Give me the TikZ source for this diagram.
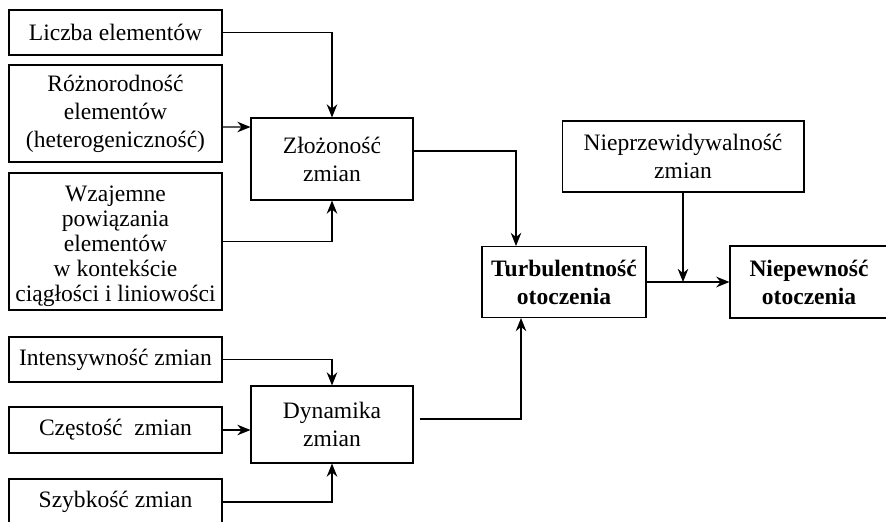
\documentclass[tikz,border=0pt]{standalone}
\usepackage{fontspec}
\setmainfont{Liberation Serif}
\usetikzlibrary{arrows.meta}

\begin{document}
\begin{tikzpicture}[x=0.02cm, y=-0.02cm,
    box/.style={draw, line width=0.6pt, align=center, inner sep=0pt,
                font=\fontsize{13.4}{15.9}\selectfont},
    leftbox/.style={box, minimum width=4.26cm},
    midbox/.style={box, minimum width=3.24cm},
    arr/.style={line width=0.6pt, -{Stealth[length=7.5pt, width=6pt]}}]
    \useasboundingbox (0,0) rectangle (886,521);

    % Left column
    \node[leftbox, minimum height=0.9cm] (liczba) at (115.5,32.5) {Liczba elementów};
    \node[leftbox, minimum height=1.94cm] (rozn) at (115.5,113.5) {Różnorodność\\elementów\\(heterogeniczność)};
    \node[leftbox, minimum height=2.74cm, font=\fontsize{13.4}{14.3}\selectfont] (wzaj) at (115.5,241.5) {\rule{0pt}{14pt}Wzajemne\\powiązania\\elementów\\w kontekście\\ciągłości i liniowości};
    \node[leftbox, minimum height=0.9cm] (inten) at (115.5,359.5) {Intensywność zmian};
    \node[leftbox, minimum height=0.92cm] (czest) at (115.5,430) {Częstość~~zmian};
    \node[leftbox, minimum height=0.92cm] (szybk) at (115.5,502) {Szybkość zmian};

    % Middle column
    \node[midbox, minimum height=1.64cm] (zloz) at (332,159) {Złożoność\\zmian};
    \node[midbox, minimum height=1.54cm] (dyn) at (332,424.5) {Dynamika\\zmian};

    % Right part
    \node[box, minimum width=3.28cm, minimum height=1.42cm, font=\fontsize{13.4}{15.9}\selectfont\bfseries] (turb) at (564,282) {Turbulentność\\otoczenia};
    \node[box, minimum width=4.84cm, minimum height=1.42cm] (nieprz) at (683,156.5) {Nieprzewidywalność\\zmian};
    \node[box, minimum width=3.16cm, minimum height=1.44cm, font=\fontsize{13.4}{15.9}\selectfont\bfseries] (niepew) at (809,282) {Niepewność\\otoczenia};

    % Inputs of Złożoność
    \draw[arr] (liczba.east) -| (zloz.north);
    \draw[arr] ([yshift=-0.27cm]rozn.east) -- ([yshift=0.64cm]zloz.west);
    \draw[arr] (wzaj.east) -| (zloz.south);

    % Inputs of Dynamika
    \draw[arr] (inten.east) -| (dyn.north);
    \draw[arr] (czest.east) -- (czest.east -| dyn.west);
    \draw[arr] (szybk.east) -| (dyn.south);

    % Towards Turbulentność
    \draw[arr] ([yshift=0.16cm]zloz.east) -| ([xshift=-0.96cm]turb.north);
    \draw[arr] ([xshift=0.12cm, yshift=0.11cm]dyn.east) -| ([xshift=-0.86cm]turb.south);

    % Towards Niepewność
    \coordinate (meet) at (nieprz.south |- turb.east);
    \draw[arr, line width=1.3pt] (turb.east) -- (niepew.west);
    \draw[arr] (nieprz.south) -- (meet);
\end{tikzpicture}
\end{document}
